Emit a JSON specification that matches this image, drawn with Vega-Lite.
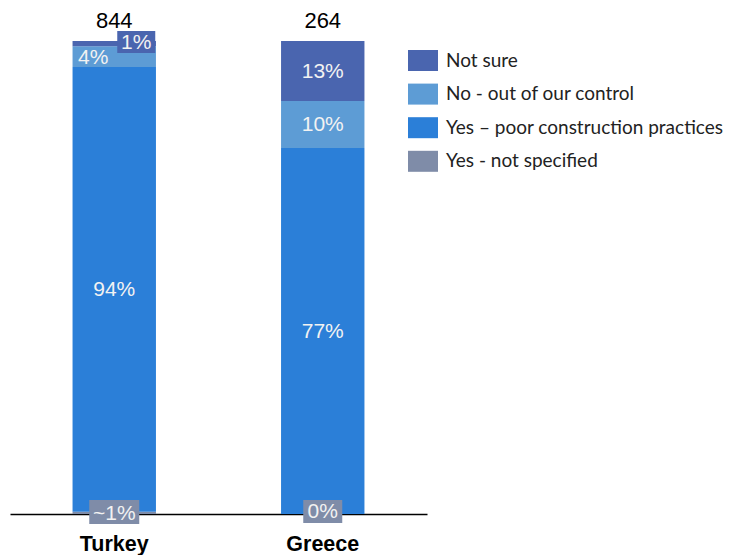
{
  "$schema": "https://vega.github.io/schema/vega-lite/v6.json",
  "autosize": "none",
  "width": 417,
  "height": 473,
  "padding": {"left": 10, "top": 41, "right": 302, "bottom": 41},
  "background": "white",
  "config": {"view": {"stroke": null}},
  "datasets": {
    "segments": [
      {"country": "Turkey", "category": "Yes - not specified", "order": 1, "value": 0.5, "label": "~1%"},
      {"country": "Turkey", "category": "Yes – poor construction practices", "order": 2, "value": 94.0, "label": "94%"},
      {"country": "Turkey", "category": "No - out of our control", "order": 3, "value": 4.4, "label": "4%"},
      {"country": "Turkey", "category": "Not sure", "order": 4, "value": 1.1, "label": "1%"},
      {"country": "Greece", "category": "Yes - not specified", "order": 1, "value": 0.0, "label": "0%"},
      {"country": "Greece", "category": "Yes – poor construction practices", "order": 2, "value": 77.4, "label": "77%"},
      {"country": "Greece", "category": "No - out of our control", "order": 3, "value": 9.9, "label": "10%"},
      {"country": "Greece", "category": "Not sure", "order": 4, "value": 12.7, "label": "13%"}
    ],
    "totals": [
      {"country": "Turkey", "n": 844},
      {"country": "Greece", "n": 264}
    ]
  },
  "data": {"name": "segments"},
  "transform": [
    {"stack": "value", "groupby": ["country"], "sort": [{"field": "order", "order": "ascending"}], "as": ["v0", "v1"], "offset": "normalize"},
    {"calculate": "(datum.v0 + datum.v1) / 2", "as": "mid"}
  ],
  "encoding": {
    "x": {
      "field": "country", "type": "nominal", "sort": ["Turkey", "Greece"],
      "scale": {"paddingInner": 0.6, "paddingOuter": 0.3},
      "axis": {
        "title": null, "labelAngle": 0, "ticks": false, "grid": false,
        "labelFont": "Liberation Sans", "labelFontWeight": "bold", "labelFontSize": 21.5,
        "labelColor": "#000000", "labelPadding": 19,
        "domainColor": "#000000", "domainWidth": 1.5
      }
    }
  },
  "layer": [
    {
      "mark": {"type": "bar"},
      "encoding": {
        "y": {"field": "v0", "type": "quantitative", "scale": {"domain": [0, 1], "nice": false}, "axis": null},
        "y2": {"field": "v1"},
        "color": {
          "field": "category", "type": "nominal",
          "scale": {
            "domain": ["Not sure", "No - out of our control", "Yes – poor construction practices", "Yes - not specified"],
            "range": ["#4A65AF", "#5D9CD5", "#2B7FD8", "#7F8CA8"]
          },
          "legend": {
            "title": null, "orient": "none", "legendX": 398, "legendY": 4.5,
            "symbolType": "M-1,-0.7L1,-0.7L1,0.7L-1,0.7Z", "symbolSize": 900,
            "symbolStrokeWidth": 0, "symbolOpacity": 1,
            "rowPadding": 7.6, "labelOffset": 8,
            "labelFont": "Lato", "labelFontSize": 19, "labelColor": "#222222",
            "labelLimit": 400
          }
        }
      }
    },
    {
      "transform": [{"filter": "datum.country == 'Turkey' && datum.category == 'Not sure'"}],
      "mark": {"type": "point", "filled": true, "opacity": 1, "shape": "M-1,-0.58L1,-0.58L1,0.58L-1,0.58Z", "size": 1444, "xOffset": 22, "yOffset": -1.6},
      "encoding": {
        "y": {"field": "mid", "type": "quantitative"},
        "color": {"field": "category", "type": "nominal"}
      }
    },
    {
      "transform": [{"filter": "datum.country == 'Turkey' && datum.category == 'Yes - not specified'"}],
      "mark": {"type": "point", "filled": true, "opacity": 1, "shape": "M-1,-0.48L1,-0.48L1,0.48L-1,0.48Z", "size": 2500, "yOffset": -0.8},
      "encoding": {
        "y": {"field": "mid", "type": "quantitative"},
        "color": {"field": "category", "type": "nominal"}
      }
    },
    {
      "transform": [{"filter": "datum.country == 'Greece' && datum.category == 'Yes - not specified'"}],
      "mark": {"type": "point", "filled": true, "opacity": 1, "shape": "M-1,-0.59L1,-0.59L1,0.59L-1,0.59Z", "size": 1521, "yOffset": -2.5},
      "encoding": {
        "y": {"field": "mid", "type": "quantitative"},
        "color": {"field": "category", "type": "nominal"}
      }
    },
    {
      "transform": [{"filter": "!(datum.country == 'Turkey' && (datum.category == 'Not sure' || datum.category == 'No - out of our control')) && !(datum.country == 'Greece' && datum.category == 'Yes - not specified')"}],
      "mark": {"type": "text", "font": "Liberation Sans", "fontSize": 21, "color": "#F2F2F2", "align": "center", "baseline": "middle", "dy": 1},
      "encoding": {
        "y": {"field": "mid", "type": "quantitative"},
        "text": {"field": "label"}
      }
    },
    {
      "transform": [{"filter": "datum.country == 'Greece' && datum.category == 'Yes - not specified'"}],
      "mark": {"type": "text", "font": "Liberation Sans", "fontSize": 21, "color": "#F2F2F2", "align": "center", "baseline": "middle", "dy": -2},
      "encoding": {
        "y": {"field": "mid", "type": "quantitative"},
        "text": {"field": "label"}
      }
    },
    {
      "transform": [{"filter": "datum.country == 'Turkey' && datum.category == 'No - out of our control'"}],
      "mark": {"type": "text", "font": "Liberation Sans", "fontSize": 21, "color": "#F2F2F2", "align": "center", "baseline": "middle", "dx": -21, "dy": 1},
      "encoding": {
        "y": {"field": "mid", "type": "quantitative"},
        "text": {"field": "label"}
      }
    },
    {
      "transform": [{"filter": "datum.country == 'Turkey' && datum.category == 'Not sure'"}],
      "mark": {"type": "text", "font": "Liberation Sans", "fontSize": 21, "color": "#F2F2F2", "align": "center", "baseline": "middle", "dx": 22, "dy": -1},
      "encoding": {
        "y": {"field": "mid", "type": "quantitative"},
        "text": {"field": "label"}
      }
    },
    {
      "data": {"name": "totals"},
      "transform": [],
      "mark": {"type": "text", "font": "Liberation Sans", "fontSize": 22, "color": "#000000", "align": "center", "baseline": "alphabetic", "dy": -12.7},
      "encoding": {
        "x": {"field": "country", "type": "nominal", "sort": ["Turkey", "Greece"]},
        "y": {"datum": 1, "type": "quantitative"},
        "text": {"field": "n"}
      }
    }
  ]
}
